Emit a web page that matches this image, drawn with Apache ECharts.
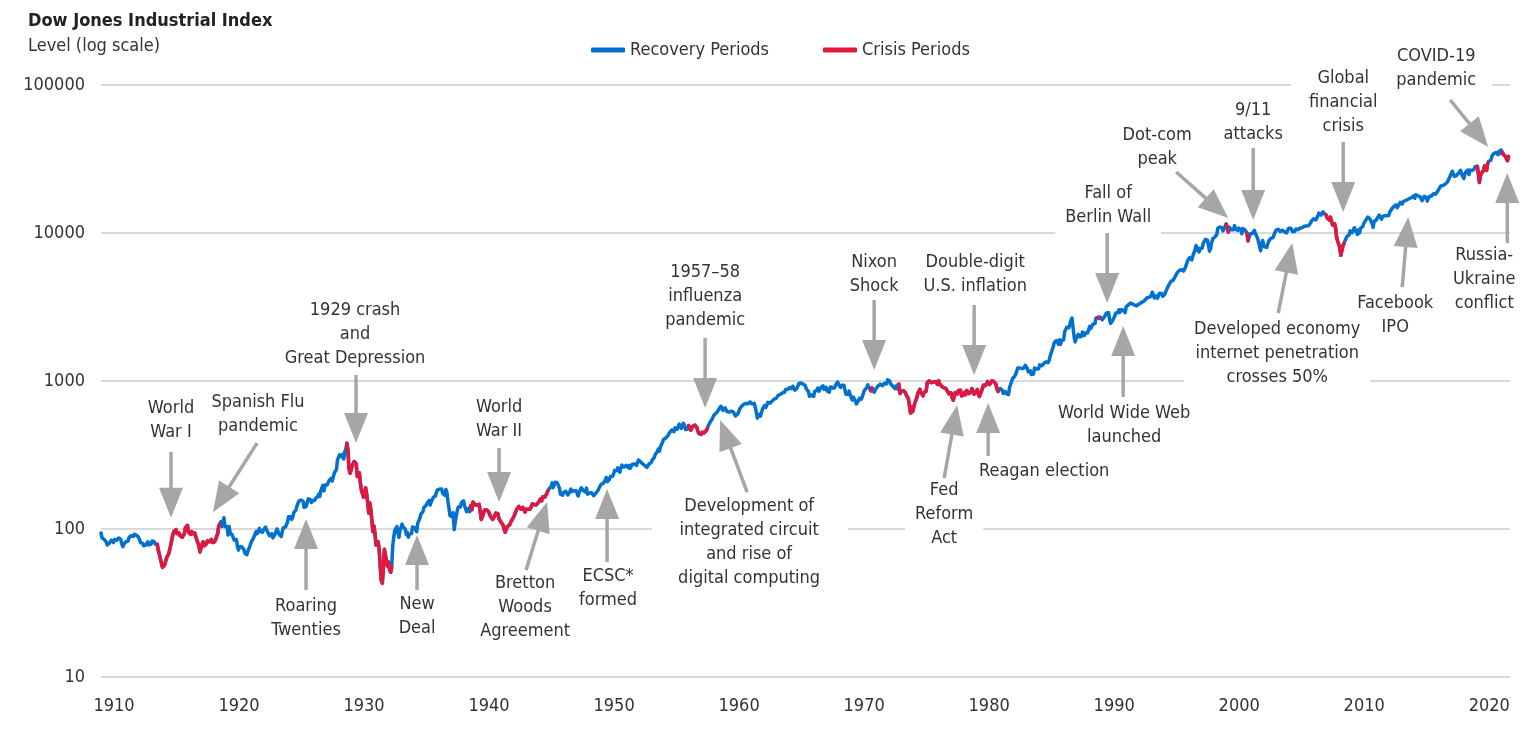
<!DOCTYPE html>
<html>
<head>
<meta charset="utf-8">
<title>Dow Jones Industrial Index</title>
<script src="https://cdn.jsdelivr.net/npm/echarts@6/dist/echarts.min.js"></script>
<style>
  html, body { margin: 0; padding: 0; background: #fff; }
  #main { width: 1528px; height: 742px; }
</style>
</head>
<body>
<div id="main"></div>
<script>
// DJIA level at the start of each month, one array per decade (null = market closed)
const dow1910s = [
  94, 87, 88, 85, 86, 82, 78, 77, 80, 82, 84, 82,
  81, 85, 84, 84, 85, 87, 87, 85, 79, 76, 79, 81,
  82, 82, 83, 88, 90, 90, 90, 89, 92, 94, 91, 90,
  88, 85, 81, 81, 80, 77, 75, 78, 80, 82, 78, 77,
  79, 83, 82, 82, 79, 81, 79, 72, null, null, null, 55,
  55, 57, 58, 64, 66, 68, 70, 78, 85, 92, 96, 99,
  99, 93, 92, 94, 90, 92, 88, 89, 93, 102, 105, 106,
  95, 96, 92, 96, 93, 94, 94, 92, 84, 83, 77, 70,
  74, 79, 82, 77, 79, 79, 83, 81, 82, 83, 85, 81,
  82, 82, 85, 89, 93, 105, 107, 112, 104, 111, 119, 104
];
const dow1920s = [
  107, 104, 91, 104, 94, 92, 91, 87, 84, 82, 85, 76,
  72, 76, 75, 76, 78, 73, 69, 69, 67, 71, 73, 77,
  81, 82, 86, 89, 93, 96, 93, 97, 101, 96, 98, 95,
  99, 97, 103, 102, 95, 97, 90, 88, 93, 87, 88, 92,
  96, 100, 97, 92, 90, 89, 96, 102, 105, 103, 104, 111,
  121, 123, 121, 116, 120, 129, 131, 134, 142, 144, 155, 151,
  157, 157, 154, 140, 143, 142, 152, 160, 163, 158, 151, 156,
  157, 156, 161, 161, 166, 172, 166, 182, 190, 197, 181, 198,
  202, 198, 195, 213, 216, 220, 211, 216, 240, 240, 252, 293,
  300, 317, 317, 308, 320, 297, 333, 347, 380, 343, 258, 238
];
const dow1930s = [
  248, 267, 271, 286, 279, 275, 226, 233, 240, 204, 183, 181,
  164, 167, 190, 172, 151, 128, 150, 135, 139, 96, 105, 93,
  78, 76, 82, 73, 56, 45, 43, 54, 73, 72, 61, 56,
  60, 53, 51, 55, 77, 88, 98, 97, 104, 94, 88, 98,
  100, 108, 103, 101, 100, 92, 95, 88, 92, 91, 93, 103,
  104, 102, 101, 96, 109, 111, 118, 126, 127, 131, 140, 142,
  144, 149, 152, 156, 145, 153, 157, 164, 166, 167, 177, 184,
  180, 186, 188, 186, 174, 175, 169, 185, 177, 154, 138, 123,
  121, 121, 129, 99, 111, 108, 134, 141, 139, 141, 151, 150,
  155, 143, 147, 131, 128, 138, 131, 144, 135, 152, 151, 146
];
const dow1940s = [
  150, 145, 148, 147, 148, 116, 121, 126, 134, 132, 135, 131,
  131, 130, 121, 123, 116, 116, 123, 128, 127, 127, 117, 115,
  111, 109, 106, 99, 95, 100, 104, 107, 106, 109, 114, 114,
  120, 125, 130, 136, 135, 142, 143, 136, 136, 140, 138, 130,
  136, 137, 136, 138, 136, 142, 148, 146, 146, 146, 146, 148,
  152, 155, 160, 155, 165, 165, 164, 162, 174, 181, 187, 192,
  193, 205, 190, 199, 207, 212, 205, 201, 189, 172, 169, 169,
  177, 179, 180, 177, 170, 170, 178, 186, 179, 177, 181, 180,
  181, 174, 167, 177, 180, 190, 189, 182, 181, 178, 189, 172,
  177, 175, 172, 176, 174, 168, 167, 175, 178, 182, 189, 193
];
const dow1950s = [
  200, 201, 203, 206, 214, 223, 209, 209, 216, 226, 225, 227,
  235, 249, 252, 248, 259, 250, 242, 257, 270, 271, 262, 261,
  269, 270, 260, 269, 257, 262, 274, 279, 275, 271, 269, 283,
  292, 289, 284, 280, 275, 272, 268, 275, 261, 264, 275, 281,
  281, 292, 294, 304, 319, 328, 334, 347, 336, 361, 352, 386,
  404, 409, 411, 409, 426, 425, 451, 465, 468, 467, 455, 483,
  488, 471, 484, 511, 516, 478, 493, 518, 502, 469, 479, 473,
  500, 480, 465, 475, 494, 505, 503, 508, 484, 456, 441, 450,
  436, 450, 440, 447, 455, 463, 478, 502, 508, 532, 543, 558,
  584, 594, 603, 602, 624, 644, 644, 675, 664, 632, 647, 659
];
const dow1960s = [
  679, 622, 630, 616, 601, 625, 641, 617, 626, 580, 580, 597,
  616, 648, 662, 676, 678, 697, 684, 705, 720, 701, 704, 722,
  731, 700, 708, 706, 665, 613, 561, 597, 609, 579, 590, 649,
  652, 683, 662, 683, 718, 727, 707, 695, 729, 733, 755, 751,
  763, 785, 800, 813, 811, 821, 831, 841, 838, 875, 873, 875,
  874, 903, 904, 889, 922, 918, 868, 882, 893, 931, 961, 947,
  969, 984, 952, 924, 933, 884, 870, 847, 788, 774, 807, 791,
  786, 849, 839, 865, 897, 852, 860, 904, 901, 927, 880, 875,
  905, 855, 840, 840, 912, 899, 898, 883, 896, 935, 952, 985,
  944, 946, 905, 935, 950, 937, 873, 815, 837, 813, 856, 812
];
const dow1970s = [
  800, 744, 777, 785, 736, 700, 684, 734, 765, 760, 755, 794,
  839, 869, 879, 904, 941, 907, 891, 858, 898, 887, 839, 831,
  890, 902, 928, 940, 954, 961, 929, 925, 964, 953, 956, 1018,
  1020, 999, 955, 951, 921, 901, 891, 926, 888, 947, 956, 822,
  851, 856, 860, 847, 837, 802, 802, 757, 679, 608, 666, 619,
  616, 704, 739, 768, 821, 832, 879, 832, 835, 794, 836, 861,
  852, 975, 973, 1000, 997, 975, 1003, 985, 974, 990, 965, 947,
  1005, 954, 937, 920, 927, 899, 916, 891, 862, 847, 818, 830,
  831, 770, 742, 757, 837, 841, 819, 862, 877, 866, 793, 799,
  805, 839, 809, 862, 855, 822, 842, 846, 888, 878, 815, 822
];
const dow1980s = [
  839, 876, 863, 786, 817, 851, 868, 935, 933, 932, 925, 993,
  964, 947, 975, 1004, 997, 992, 977, 952, 882, 850, 853, 889,
  875, 871, 824, 823, 848, 820, 812, 809, 901, 896, 992, 1039,
  1047, 1076, 1113, 1130, 1226, 1200, 1222, 1199, 1216, 1233, 1225, 1276,
  1259, 1220, 1155, 1165, 1171, 1105, 1132, 1115, 1224, 1207, 1207, 1188,
  1212, 1287, 1300, 1267, 1258, 1315, 1336, 1348, 1334, 1329, 1375, 1472,
  1547, 1571, 1709, 1819, 1784, 1877, 1893, 1775, 1898, 1768, 1878, 1914,
  1896, 2158, 2224, 2305, 2286, 2292, 2419, 2572, 2663, 2596, 1994, 1834,
  1939, 1958, 2071, 1988, 2032, 1997, 2142, 2129, 2032, 2113, 2149, 2114,
  2169, 2342, 2259, 2294, 2419, 2481, 2440, 2661, 2737, 2693, 2645, 2706
];
const dow1990s = [
  2753, 2591, 2627, 2707, 2657, 2877, 2881, 2905, 2614, 2453, 2442, 2560,
  2634, 2736, 2883, 2914, 2888, 3028, 2907, 3025, 3044, 3017, 3069, 2895,
  3169, 3224, 3267, 3236, 3359, 3397, 3319, 3394, 3257, 3272, 3226, 3305,
  3301, 3310, 3370, 3436, 3428, 3527, 3516, 3540, 3651, 3555, 3681, 3684,
  3754, 3978, 3832, 3636, 3682, 3758, 3625, 3765, 3913, 3843, 3908, 3739,
  3834, 3844, 4011, 4158, 4321, 4465, 4556, 4709, 4611, 4789, 4756, 5075,
  5117, 5395, 5486, 5588, 5569, 5643, 5655, 5529, 5616, 5882, 6029, 6522,
  6448, 6813, 6877, 6584, 7009, 7331, 7673, 8223, 7622, 7945, 7442, 7823,
  7908, 7907, 8546, 8800, 9063, 8900, 8952, 8883, 7539, 7843, 8592, 9117,
  9181, 9359, 9307, 9786, 10789, 10560, 10971, 10655, 10829, 10337, 10730, 10878
];
const dow2000s = [
  11497, 10941, 10128, 10922, 10734, 10522, 10448, 10522, 11215, 10651, 10971, 10415,
  10788, 10887, 10495, 9879, 10735, 10912, 10502, 10523, 9950, 8848, 9075, 9852,
  10022, 9920, 10106, 10404, 9946, 9925, 9243, 8737, 8664, 7592, 8397, 8896,
  8342, 8054, 7891, 7992, 8480, 8850, 8985, 9234, 9416, 9275, 9801, 9782,
  10454, 10488, 10584, 10358, 10226, 10188, 10435, 10140, 10174, 10080, 10027, 10428,
  10783, 10490, 10766, 10504, 10193, 10467, 10275, 10641, 10482, 10569, 10440, 10806,
  10718, 10865, 10993, 11109, 11367, 11168, 11150, 11186, 11381, 11679, 12081, 12222,
  12463, 12622, 12269, 12354, 13063, 13628, 13409, 13212, 13358, 13896, 13930, 13372,
  13265, 12650, 12266, 12263, 12820, 12638, 11350, 11378, 11544, 10851, 9325, 8829,
  8776, 8001, 7063, 7609, 8168, 8500, 8447, 9172, 9496, 9712, 9713, 10345
];
const dow2010s = [
  10428, 10067, 10325, 10857, 11009, 10137, 9774, 10466, 10015, 10788, 11118, 11006,
  11578, 11892, 12226, 12320, 12811, 12570, 12414, 12143, 11614, 10913, 11955, 12046,
  12218, 12633, 12952, 13212, 13214, 12393, 12880, 13009, 13091, 13437, 13096, 13026,
  13104, 13861, 14054, 14579, 14840, 15116, 14910, 15500, 14810, 15130, 15546, 16086,
  16577, 15699, 16322, 16458, 16581, 16717, 16827, 16563, 17098, 17043, 17391, 17828,
  17823, 17165, 18133, 17776, 17841, 18011, 17620, 17690, 16528, 16285, 17664, 17720,
  17425, 16466, 16517, 17685, 17774, 17787, 17930, 18432, 18401, 18308, 18142, 19124,
  19763, 19864, 20812, 20663, 20941, 21009, 21350, 21891, 21948, 22405, 23377, 24272,
  24719, 26149, 25029, 24103, 24163, 24416, 24271, 25415, 25965, 26458, 25116, 25538,
  23327, 24999, 25916, 25929, 26593, 24815, 26600, 26864, 26403, 26917, 27046, 28051
];
const dow2020s = [
  28538, 28256, 25409, 21917, 24346, 25383, 25813, 26428, 28430, 27782, 26502, 29638,
  30606, 29983, 30932, 32982, 33875, 34529, 34503, 34935, 35361, 33844, 35820, 34484,
  36338, 35132, 33893, 34678, 32977, 32990, 30775, 32845
];

// crisis periods, as [from, to] in decimal years
const crisisPeriods = [
  [1914.45, 1919.55],
  [1929.6, 1933.3],
  [1939.55, 1945.8],
  [1956.95, 1958.55],
  [1971.55, 1971.7],
  [1973.8, 1981.8],
  [1989.7, 1989.9],
  [1999.95, 2000.2],
  [2001.6, 2001.8],
  [2007.99, 2009.45],
  [2020.08, 2020.92],
  [2022.05, 2022.7]
];

// annotations: tip in data space, tail and label as pixel offsets from the tip
const annotations = [
  { text: 'World\nWar I', tip: [1915.6, 119], tail: [0, -66], label: [0, -97] },
  { text: 'Spanish Flu\npandemic', tip: [1918.96, 130], tail: [44, -69], label: [45, -98] },
  { text: '1929 crash\nand\nGreat Depression', tip: [1930.4, 381], tail: [0, -68], label: [0, -109], pad: [6, 10, 14, 8] },
  { text: 'Roaring\nTwenties', tip: [1926.4, 117], tail: [0, 71], label: [0, 99] },
  { text: 'New\nDeal', tip: [1935.28, 91], tail: [0, 55], label: [0, 81] },
  { text: 'World\nWar II', tip: [1941.84, 152], tail: [0, -54], label: [0, -83] },
  { text: 'Bretton\nWoods\nAgreement', tip: [1945.68, 152], tail: [-21, 68], label: [-22, 105] },
  { text: 'ECSC*\nformed', tip: [1950.48, 186], tail: [0, 73], label: [1, 99] },
  { text: '1957\u201358\ninfluenza\npandemic', tip: [1958.32, 658], tail: [0, -70], label: [0, -112] },
  { text: 'Development of\nintegrated circuit\nand rise of\ndigital computing', tip: [1959.52, 545], tail: [27, 72], label: [30, 122], pad: [6, 28, 6, 26] },
  { text: 'Nixon\nShock', tip: [1971.84, 1186], tail: [0, -70], label: [0, -96] },
  { text: 'Double-digit\nU.S. inflation', tip: [1979.84, 1099], tail: [0, -70], label: [1, -101] },
  { text: 'Fed\nReform\nAct', tip: [1978.48, 689], tail: [-13, 73], label: [-13, 109] },
  { text: 'Reagan election', tip: [1980.96, 710], tail: [0, 53], label: [56, 68] },
  { text: 'Fall of\nBerlin Wall', tip: [1990.48, 3365], tail: [0, -70], label: [1, -98] },
  { text: 'World Wide Web\nlaunched', tip: [1991.76, 2355], tail: [0, 71], label: [1, 99] },
  { text: 'Dot-com\npeak', tip: [2000.16, 12620], tail: [-52, -46], label: [-71, -71] },
  { text: 'COVID-19\npandemic', tip: [2020.96, 38100], tail: [-38, -47], label: [-49, -79], pad: [6, 16, 6, 10] },
  { text: 'Global\nfinancial\ncrisis', tip: [2009.36, 13870], tail: [0, -70], label: [-4, -110], pad: [6, 10, 6, 18] },
  { text: '9/11\nattacks', tip: [2002.16, 12240], tail: [0, -72], label: [0, -98] },
  { text: 'Russia-\nUkraine\nconflict', tip: [2022.48, 25400], tail: [0, 70], label: [-23, 106] },
  { text: 'Facebook\nIPO', tip: [2014.56, 12820], tail: [-6, 70], label: [-13, 98] },
  { text: 'Developed economy\ninternet penetration\ncrosses 50%', tip: [2005.28, 8550], tail: [-14, 70], label: [-15, 110] }
];

const FONT = "'Liberation Sans Narrow', 'DejaVu Sans Condensed', 'Arial Narrow', sans-serif";
const BLUE = '#0071CE';
const RED = '#E3173E';
const GREY = '#A6A6A6';
const TEXT = '#333333';

function monthly(startYear, values) {
  const out = [];
  values.forEach((v, i) => {
    if (v !== null) out.push([startYear + i / 12, v]);
  });
  return out;
}

const allPoints = [].concat(
  monthly(1910, dow1910s), monthly(1920, dow1920s), monthly(1930, dow1930s),
  monthly(1940, dow1940s), monthly(1950, dow1950s), monthly(1960, dow1960s),
  monthly(1970, dow1970s), monthly(1980, dow1980s), monthly(1990, dow1990s),
  monthly(2000, dow2000s), monthly(2010, dow2010s), monthly(2020, dow2020s)
);

const series = [{
  name: 'Recovery Periods',
  type: 'line',
  data: allPoints,
  showSymbol: false,
  symbol: 'none',
  color: BLUE,
  lineStyle: { width: 3.5, color: BLUE, join: 'round', cap: 'round' },
  z: 2
}];
crisisPeriods.forEach(p => {
  series.push({
    name: 'Crisis Periods',
    type: 'line',
    data: allPoints.filter(d => d[0] >= p[0] && d[0] <= p[1]),
    showSymbol: false,
    symbol: 'none',
    color: RED,
    lineStyle: { width: 3.5, color: RED, join: 'round', cap: 'round' },
    z: 3
  });
});

const chart = echarts.init(document.getElementById('main'));
chart.setOption({
  animation: false,
  backgroundColor: '#fff',
  textStyle: { fontFamily: FONT },
  title: {
    text: 'Dow Jones Industrial Index',
    subtext: 'Level (log scale)',
    left: 23,
    top: 6,
    itemGap: 5,
    textStyle: { fontFamily: FONT, fontSize: 18, fontWeight: 'bold', color: '#222', lineHeight: 20 },
    subtextStyle: { fontFamily: FONT, fontSize: 18, color: TEXT, lineHeight: 20 }
  },
  legend: {
    left: 586,
    top: 36,
    icon: 'roundRect',
    itemWidth: 34,
    itemHeight: 5,
    itemGap: 54,
    data: ['Recovery Periods', 'Crisis Periods'],
    textStyle: { fontFamily: FONT, fontSize: 18, color: TEXT }
  },
  grid: { left: 101, right: 18, top: 85, bottom: 65, containLabel: false },
  xAxis: {
    type: 'value',
    min: 1910,
    max: 2022.7,
    interval: 10,
    axisLine: { show: false },
    axisTick: { show: false },
    splitLine: { show: false },
    axisLabel: {
      showMaxLabel: false,
      margin: 20,
      padding: [0, 0, 0, 26],
      fontFamily: FONT,
      fontSize: 18,
      color: TEXT,
      formatter: v => (Math.round(v) % 10 === 0 ? String(Math.round(v)) : '')
    }
  },
  yAxis: {
    type: 'log',
    logBase: 10,
    min: 10,
    max: 100000,
    axisLine: { show: false },
    axisTick: { show: false },
    splitLine: { show: true, lineStyle: { color: '#D9D9D9', width: 2 } },
    axisLabel: {
      margin: 16,
      fontFamily: FONT,
      fontSize: 18,
      color: TEXT,
      formatter: v => String(Math.round(v))
    }
  },
  series: series
});

// annotation labels and arrows placed through the chart's own coordinate system
const elements = [];
annotations.forEach(a => {
  const tip = chart.convertToPixel({ gridIndex: 0 }, a.tip);
  const tail = [tip[0] + a.tail[0], tip[1] + a.tail[1]];
  const lab = [tip[0] + a.label[0], tip[1] + a.label[1]];
  elements.push({
    type: 'text',
    x: lab[0],
    y: lab[1],
    z: 1,
    silent: true,
    style: {
      text: a.text,
      align: 'center',
      verticalAlign: 'middle',
      font: '18px ' + FONT,
      lineHeight: 24,
      fill: TEXT,
      backgroundColor: '#fff',
      padding: a.pad || [6, 10, 6, 10]
    }
  });
  const dx = tip[0] - tail[0], dy = tip[1] - tail[1];
  const len = Math.sqrt(dx * dx + dy * dy);
  const ux = dx / len, uy = dy / len;
  const headLen = 30, headHalf = 12;
  const bx = tip[0] - ux * headLen, by = tip[1] - uy * headLen;
  elements.push({
    type: 'line',
    z: 10,
    silent: true,
    shape: { x1: tail[0], y1: tail[1], x2: bx + ux, y2: by + uy },
    style: { stroke: GREY, lineWidth: 3.5 }
  });
  elements.push({
    type: 'polygon',
    z: 10,
    silent: true,
    shape: { points: [[tip[0], tip[1]], [bx - uy * headHalf, by + ux * headHalf], [bx + uy * headHalf, by - ux * headHalf]] },
    style: { fill: GREY }
  });
});
chart.setOption({ graphic: { elements: elements } });
</script>
</body>
</html>
